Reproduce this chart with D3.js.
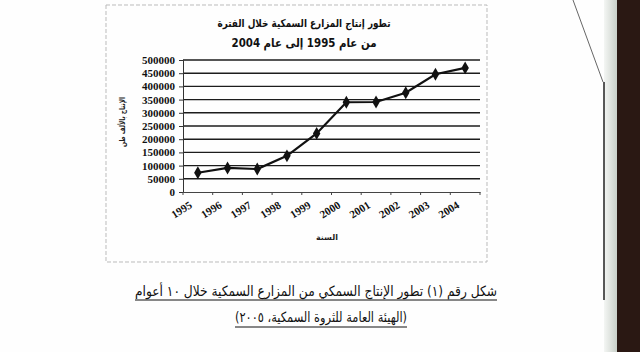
<!DOCTYPE html>
<html><head><meta charset="utf-8">
<script src="https://cdn.jsdelivr.net/npm/d3@7"></script>
<style>body{margin:0;background:#fff}svg{display:block}</style>
</head><body>
<script>
const years = ["1995","1996","1997","1998","1999","2000","2001","2002","2003","2004"];
const production = [73000, 91000, 87000, 137000, 222000, 340000, 341000, 376000, 446000, 470000];
const yTicks = [0,50000,100000,150000,200000,250000,300000,350000,400000,450000,500000];
const titleLines = ["تطور إنتاج المزارع السمكية خلال الفترة", "من عام 1995 إلى عام 2004"];
const yTitle = "الإنتاج بالألف طن";
const xTitle = "السنة";
const captionLines = ["شكل رقم (١) تطور الإنتاج السمكي من المزارع السمكية خلال ١٠ أعوام", "(الهيئة العامة للثروة السمكية، ٢٠٠٥)"];

(function(){
const W = 640, H = 352;
const svg = d3.select("body").append("svg").attr("width", W).attr("height", H);
svg.append("rect").attr("width", W).attr("height", H).attr("fill", "#fefefe");

// scan edge artifacts
const grad = svg.append("defs").append("linearGradient").attr("id","edge");
grad.append("stop").attr("offset","0").attr("stop-color","#f4f6f4");
grad.append("stop").attr("offset","1").attr("stop-color","#c9d0c9");
svg.append("rect").attr("x",604).attr("y",0).attr("width",13).attr("height",H).attr("fill","url(#edge)");
svg.append("rect").attr("x",617).attr("y",0).attr("width",23).attr("height",H).attr("fill","#2a1813");
svg.append("line").attr("x1",573).attr("y1",0).attr("x2",603).attr("y2",82).attr("stroke","#666").attr("stroke-width",1);
svg.append("line").attr("x1",604).attr("y1",82).attr("x2",604).attr("y2",300).attr("stroke","#222").attr("stroke-width",1.5);

// chart frame
svg.append("rect").attr("x",106).attr("y",5).attr("width",381).attr("height",257)
  .attr("fill","none").attr("stroke","#bbb").attr("stroke-width",1).attr("stroke-dasharray","4,2");

const pL = 183, pR = 480, pT = 60, pB = 192;
const x = d3.scaleBand().domain(years).range([pL, pR]);
const y = d3.scaleLinear().domain([0, 500000]).range([pB, pT]);
const cx = d => x(d) + x.bandwidth()/2;

// gridlines
svg.append("g").selectAll("line").data(yTicks.filter(v => v > 0)).join("line")
  .attr("x1", pL).attr("x2", pR).attr("y1", d => y(d)).attr("y2", d => y(d))
  .attr("stroke", "#1c1c1c").attr("stroke-width", 1.4);

// y axis
const ya = svg.append("g").attr("transform", `translate(${pL},0)`)
  .call(d3.axisLeft(y).tickValues(yTicks).tickSize(4).tickFormat(d3.format("d")));
ya.select(".domain").attr("stroke","#333").attr("stroke-width",1);
ya.selectAll(".tick line").attr("stroke","#333");
ya.selectAll("text").attr("font-family","'Liberation Serif', serif").attr("font-weight","bold")
  .attr("font-size","11px").attr("fill","#111").attr("x",-8);

// x axis
const xa = svg.append("g").attr("transform", `translate(0,${pB})`)
  .call(d3.axisBottom(x).tickSize(0).tickFormat(d => d));
xa.select(".domain").attr("stroke","#444").attr("stroke-width",1);
xa.selectAll(".tick text")
  .attr("font-family","'Liberation Serif', serif").attr("font-weight","bold").attr("font-size","11px").attr("fill","#111")
  .attr("text-anchor","end").attr("dy",0).attr("y",0)
  .attr("transform", "translate(-5,15) rotate(-32)");
svg.append("g").selectAll("line").data(years.concat(["__end"])).join("line")
  .attr("x1", d => d === "__end" ? pR : x(d)).attr("x2", d => d === "__end" ? pR : x(d))
  .attr("y1", pB).attr("y2", pB + 3).attr("stroke","#444");

// line + markers
const line = d3.line().x((d,i) => cx(years[i])).y(d => y(d));
svg.append("path").datum(production).attr("d", line).attr("fill","none")
  .attr("stroke","#111").attr("stroke-width",2.2);
svg.append("g").selectAll("path").data(production).join("path")
  .attr("d", d3.symbol().type(d3.symbolDiamond).size(48))
  .attr("transform", (d,i) => `translate(${cx(years[i])},${y(d)})`).attr("fill","#111");

// titles
const ar = "'DejaVu Sans', sans-serif";
svg.append("text").attr("x",304).attr("y",27).attr("direction","rtl").attr("text-anchor","middle")
  .attr("font-family",ar).attr("font-size","11px").attr("font-weight","bold").attr("fill","#111")
  .attr("textLength",173).attr("lengthAdjust","spacingAndGlyphs").text(titleLines[0]);
svg.append("text").attr("x",304).attr("y",47).attr("direction","rtl").attr("text-anchor","middle")
  .attr("font-family",ar).attr("font-size","12px").attr("font-weight","bold").attr("fill","#111")
  .attr("textLength",145).attr("lengthAdjust","spacingAndGlyphs").text(titleLines[1]);

svg.append("text").attr("transform","translate(125,122) rotate(-90)").attr("direction","rtl").attr("text-anchor","middle")
  .attr("font-family",ar).attr("font-size","8px").attr("font-weight","bold").attr("fill","#222")
  .attr("textLength",50).attr("lengthAdjust","spacingAndGlyphs").text(yTitle);
svg.append("text").attr("x",327).attr("y",240).attr("direction","rtl").attr("text-anchor","middle")
  .attr("font-family",ar).attr("font-size","8px").attr("font-weight","bold").attr("fill","#222").text(xTitle);

// caption
const cap = [{t:captionLines[0], x:316, y:296, w:362, uy:300},{t:captionLines[1], x:321, y:322, w:172, uy:327}];
cap.forEach(c => {
  svg.append("text").attr("x",c.x).attr("y",c.y).attr("direction","rtl").attr("text-anchor","middle")
    .attr("font-family",ar).attr("font-size","14px").attr("fill","#111")
    .attr("textLength",c.w).attr("lengthAdjust","spacingAndGlyphs").text(c.t);
  svg.append("line").attr("x1",c.x - c.w/2).attr("x2",c.x + c.w/2).attr("y1",c.uy).attr("y2",c.uy)
    .attr("stroke","#111").attr("stroke-width",1);
});
})();
</script>
</body></html>
